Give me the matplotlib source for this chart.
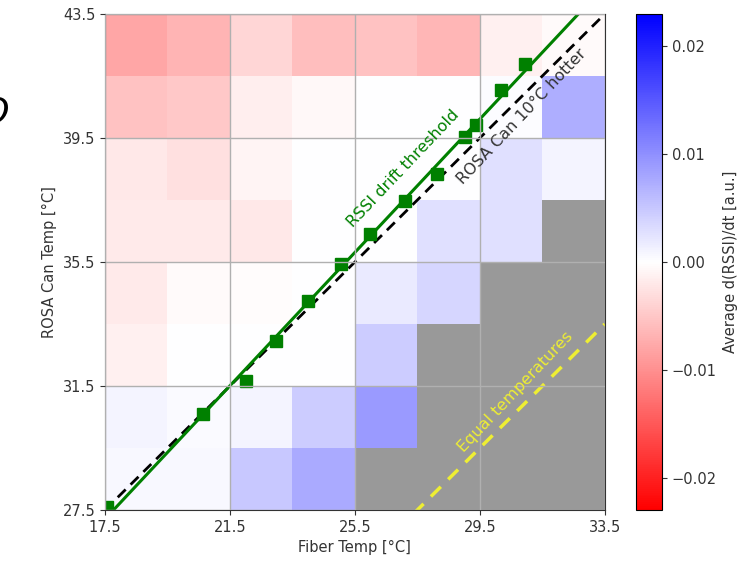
import numpy as np
import matplotlib
matplotlib.use("Agg")
import matplotlib.pyplot as plt

# cell edges (2 degC bins)
fiber_edges = [17.5, 19.5, 21.5, 23.5, 25.5, 27.5, 29.5, 31.5, 33.5]
rosa_edges = [27.5, 29.5, 31.5, 33.5, 35.5, 37.5, 39.5, 41.5, 43.5]

nan = np.nan
# average d(RSSI)/dt per cell, rows from bottom (27.5) to top (43.5)
drssi = [
    [0.0006, 0.0006, 0.0050, 0.0077, nan, nan, nan, nan],
    [0.0009, 0.0004, 0.0009, 0.0045, 0.0090, nan, nan, nan],
    [-0.0014, 0.0, 0.0, 0.0, 0.0045, nan, nan, nan],
    [-0.0018, -0.0005, -0.0003, 0.0, 0.0018, 0.0036, nan, nan],
    [-0.0018, -0.0018, -0.0020, 0.0, 0.0, 0.0027, 0.0027, nan],
    [-0.0020, -0.0027, -0.0009, 0.0, 0.0, 0.0, 0.0027, 0.0010],
    [-0.0054, -0.0050, -0.0015, -0.0006, 0.0, 0.0, 0.0002, 0.0072],
    [-0.0080, -0.0067, -0.0036, -0.0059, -0.0055, -0.0065, -0.0014, -0.0005],
]

# RSSI drift threshold points
thr_fiber = [17.55, 20.65, 22.03, 22.97, 24.0, 25.07, 26.0, 27.1, 28.13, 29.02, 29.37, 30.19, 30.94]
thr_rosa = [27.6, 30.6, 31.66, 32.96, 34.25, 35.44, 36.4, 37.48, 38.34, 39.54, 39.92, 41.06, 41.9]

ticks = [17.5, 21.5, 25.5, 29.5, 33.5]
yticks = [27.5, 31.5, 35.5, 39.5, 43.5]

fig = plt.figure(figsize=(7.55, 5.64), dpi=100)
ax = fig.add_axes([0.139, 0.0957, 0.662, 0.8794])
cax = fig.add_axes([0.842, 0.0957, 0.035, 0.8794])

ax.set_facecolor('#999999')
mesh = ax.pcolormesh(fiber_edges, rosa_edges, np.array(drssi),
                     cmap='bwr_r', vmin=-0.023, vmax=0.023)

xs = np.array([17.5, 33.5])
# equal temperatures and 10 degC offset
ax.plot(xs, xs, '--', color='#eeee33', lw=2.5, dashes=(4, 3))
ax.plot(xs, xs + 10, '--', color='black', lw=2, dashes=(4, 2.5))

p = np.polyfit(thr_fiber, thr_rosa, 1)
ax.plot(xs, np.polyval(p, xs), color='green', lw=2.2)
ax.plot(thr_fiber, thr_rosa, 's', color='green', ms=8, clip_on=True)

ax.text(27.05, 38.5, 'RSSI drift threshold', color='green', fontsize=11.5,
        rotation=46.5, ha='center', va='center')
ax.text(30.85, 40.2, 'ROSA Can 10°C hotter', color='#333333', fontsize=11.5,
        rotation=46.5, ha='center', va='center')
ax.text(30.65, 31.3, 'Equal temperatures', color='#eeee33', fontsize=11.5,
        rotation=46.5, ha='center', va='center')

ax.set_xlim(17.5, 33.5)
ax.set_ylim(27.5, 43.5)
ax.set_xticks(ticks)
ax.set_yticks(yticks)
ax.grid(True, color='#b0b0b0', lw=1)
ax.set_axisbelow(False)
ax.tick_params(labelsize=10.5, colors='#333333')
ax.set_xlabel('Fiber Temp [°C]', fontsize=10.5, color='#333333')
ax.set_ylabel('ROSA Can Temp [°C]', fontsize=10.5, color='#333333')
for s in ax.spines.values():
    s.set_color('#333333')

cb = fig.colorbar(mesh, cax=cax)
cb.set_ticks([-0.02, -0.01, 0.0, 0.01, 0.02])
cb.ax.tick_params(labelsize=10.5, colors='#333333')
cb.set_label('Average d(RSSI)/dt [a.u.]', fontsize=10.5, color='#333333')

# slide text cut off at the left edge in the source
fig.text(0.012, 0.80, 'O', fontsize=26, style='italic', ha='right', va='center')

fig.savefig('out.png', dpi=100)
